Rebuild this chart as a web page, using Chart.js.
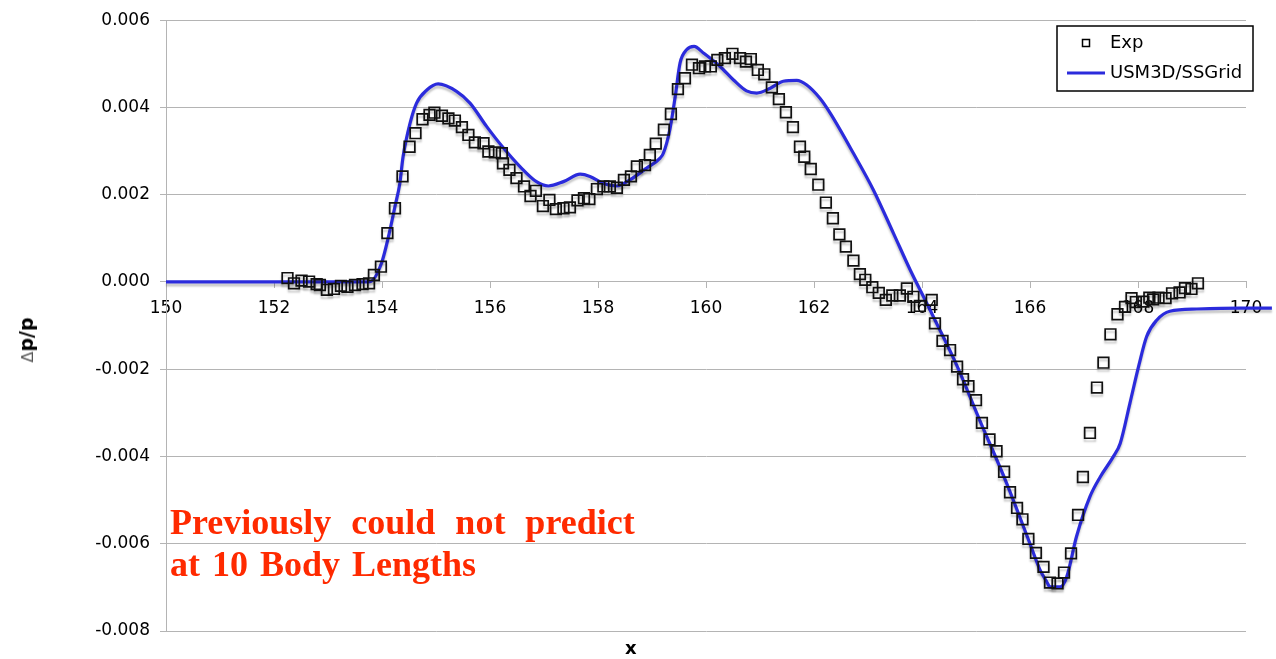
<!DOCTYPE html>
<html>
<head>
<meta charset="utf-8">
<script src="https://cdn.jsdelivr.net/npm/chart.js@4/dist/chart.umd.min.js"></script>
<style>
    body { margin: 0; background: #fff; }
    #wrap { position: relative; width: 1276px; height: 659px; }
    #chart { position: absolute; left: 0; top: 0; }
    .note { position: absolute; left: 170px; font-family: "Liberation Serif", serif; font-weight: bold;
            font-size: 36px; line-height: 42px; color: #ff2a00; white-space: nowrap; }
    #xTitle { position: absolute; left: 625px; top: 637px; font: bold 18px "DejaVu Sans", sans-serif; }
    #yTitle { position: absolute; left: 26px; top: 340px; transform: translate(-50%, -50%) rotate(-90deg);
              font: bold 19px "DejaVu Sans", sans-serif; white-space: nowrap; }
    #yTitle span { font-weight: normal; color: #555; font-size: 16px; }
</style>
</head>
<body>
<div id="wrap">
    <canvas id="chart" width="1276" height="659"></canvas>
    <div class="note" style="top:501px; word-spacing:11px;">Previously could not predict</div>
    <div class="note" style="top:543px; word-spacing:3px;">at 10 Body Lengths</div>
    <div id="xTitle">x</div>
    <div id="yTitle"><span>&#916;</span>p/p</div>
</div>
<script>
// Experiment (squares)
const expX = [152.25, 152.37, 152.51, 152.65, 152.79, 152.85, 152.98, 153.11, 153.24, 153.36,
    153.50, 153.64, 153.76, 153.85, 153.98, 154.10, 154.24, 154.38, 154.51, 154.62,
    154.75, 154.88, 154.97, 155.11, 155.23, 155.35, 155.48, 155.60, 155.72, 155.88,
    155.97, 156.09, 156.22, 156.24, 156.36, 156.49, 156.63, 156.75, 156.85, 156.98,
    157.10, 157.22, 157.36, 157.48, 157.62, 157.74, 157.84, 157.98, 158.10, 158.22,
    158.35, 158.48, 158.61, 158.72, 158.87, 158.96, 159.07, 159.22, 159.35, 159.48,
    159.61, 159.74, 159.87, 159.98, 160.09, 160.21, 160.35, 160.49, 160.63, 160.74,
    160.83, 160.96, 161.08, 161.22, 161.35, 161.48, 161.61, 161.74, 161.82, 161.94,
    162.08, 162.22, 162.35, 162.47, 162.59, 162.73, 162.85, 162.95, 163.08, 163.20,
    163.33, 163.45, 163.59, 163.72, 163.84, 163.96, 164.18, 164.24, 164.38, 164.52,
    164.65, 164.76, 164.86, 165.00, 165.11, 165.25, 165.38, 165.52, 165.63, 165.76,
    165.86, 165.97, 166.11, 166.25, 166.37, 166.51, 166.63, 166.76, 166.89, 166.98,
    167.11, 167.24, 167.36, 167.49, 167.62, 167.76, 167.88, 167.96, 168.10, 168.21,
    168.28, 168.38, 168.51, 168.63, 168.77, 168.87, 168.99, 169.11];
const expY = [0.00009, -0.00003, 0.00003, 0.00001, -0.00005, -0.00007, -0.00018, -0.00016, -0.00009, -0.00011,
    -0.00007, -0.00005, -0.00003, 0.00016, 0.00035, 0.00112, 0.00169, 0.00242, 0.00310, 0.00341,
    0.00373, 0.00383, 0.00388, 0.00381, 0.00375, 0.00370, 0.00355, 0.00337, 0.00320, 0.00318,
    0.00299, 0.00297, 0.00295, 0.00272, 0.00257, 0.00238, 0.00219, 0.00197, 0.00209, 0.00174,
    0.00188, 0.00167, 0.00169, 0.00171, 0.00187, 0.00192, 0.00190, 0.00213, 0.00219, 0.00219,
    0.00216, 0.00234, 0.00242, 0.00265, 0.00268, 0.00291, 0.00317, 0.00349, 0.00385, 0.00442,
    0.00467, 0.00498, 0.00490, 0.00494, 0.00494, 0.00509, 0.00513, 0.00523, 0.00513, 0.00505,
    0.00511, 0.00486, 0.00476, 0.00446, 0.00419, 0.00389, 0.00355, 0.00310, 0.00287, 0.00259,
    0.00223, 0.00182, 0.00146, 0.00109, 0.00081, 0.00049, 0.00018, 0.00005, -0.00012, -0.00025,
    -0.00041, -0.00031, -0.00031, -0.00015, -0.00034, -0.00055, -0.00041, -0.00095, -0.00135, -0.00156,
    -0.00194, -0.00223, -0.00239, -0.00271, -0.00323, -0.00361, -0.00388, -0.00435, -0.00482, -0.00518,
    -0.00544, -0.00589, -0.00621, -0.00653, -0.00689, -0.00691, -0.00666, -0.00622, -0.00534, -0.00447,
    -0.00346, -0.00242, -0.00185, -0.00120, -0.00074, -0.00057, -0.00037, -0.00046, -0.00045, -0.00036,
    -0.00040, -0.00036, -0.00037, -0.00026, -0.00024, -0.00014, -0.00016, -0.00003];

// USM3D/SSGrid (line)
const cfdX = [150.0, 153.5, 153.78, 153.99, 154.12, 154.24, 154.33, 154.39, 154.52, 154.64,
    154.83, 155.04, 155.38, 155.63, 155.94, 156.25, 156.56, 156.86, 157.08, 157.36,
    157.67, 157.85, 158.10, 158.35, 158.59, 158.90, 159.15, 159.21, 159.33, 159.43,
    159.52, 159.64, 159.78, 159.95, 160.26, 160.51, 160.75, 160.94, 161.19, 161.43,
    161.68, 161.86, 162.11, 162.30, 162.73, 163.10, 163.47, 163.78, 164.09, 164.24,
    164.64, 165.07, 165.57, 166.00, 166.19, 166.31, 166.37, 166.56, 166.68, 166.86,
    167.11, 167.30, 167.54, 167.67, 167.85, 168.01, 168.16, 168.35, 168.59, 169.09,
    169.89, 170.48];
const cfdY = [0, 0, 0.00001, 0.00043, 0.00104, 0.00173, 0.00226, 0.00287, 0.00364, 0.00410,
    0.00440, 0.00454, 0.00437, 0.00410, 0.00356, 0.00307, 0.00264, 0.00230, 0.00220, 0.00230,
    0.00247, 0.00242, 0.00226, 0.00220, 0.00234, 0.00261, 0.00284, 0.00295, 0.00349, 0.00425,
    0.00502, 0.00532, 0.00540, 0.00525, 0.00494, 0.00463, 0.00438, 0.00433, 0.00444, 0.00460,
    0.00462, 0.00452, 0.00421, 0.00387, 0.00295, 0.00211, 0.00112, 0.00028, -0.00049, -0.00087,
    -0.00190, -0.00317, -0.00462, -0.00600, -0.00661, -0.00687, -0.00699, -0.00699, -0.00676, -0.00584,
    -0.00492, -0.00447, -0.00401, -0.00370, -0.00278, -0.00194, -0.00125, -0.00087, -0.00067, -0.00062,
    -0.00060, -0.00060];

const seriesNames = ['Exp', 'USM3D/SSGrid'];
const xTicks = { min: 150, max: 170, step: 2 };
const yTicks = { min: -0.008, max: 0.006, step: 0.002 };

const gridGray = '#b4b4b4';
const lineBlue = '#2b2bdc';
const tickFont = { family: 'DejaVu Sans', size: 17 };

// soft drop shadow under the marks, like the original
const shadowPlugin = {
    id: 'shadow',
    beforeDatasetDraw(chart) {
        const ctx = chart.ctx;
        ctx.save();
        ctx.shadowColor = 'rgba(0,0,0,0.22)';
        ctx.shadowOffsetY = 3;
        ctx.shadowBlur = 2;
    },
    afterDatasetDraw(chart) {
        chart.ctx.restore();
    }
};

// boxed legend in the top right corner
const legendBox = {
    id: 'legendBox',
    afterDraw(chart) {
        const ctx = chart.ctx;
        const bx = 1057, by = 26, bw = 196, bh = 65;
        ctx.save();
        ctx.fillStyle = '#fff';
        ctx.fillRect(bx, by, bw, bh);
        ctx.strokeStyle = '#000';
        ctx.lineWidth = 1.5;
        ctx.strokeRect(bx, by, bw, bh);

        ctx.font = '18px "DejaVu Sans"';
        ctx.fillStyle = '#000';
        ctx.textBaseline = 'middle';

        ctx.lineWidth = 1.5;
        ctx.strokeRect(1082.5, 39.5, 7, 7);
        ctx.fillText(seriesNames[0], 1110, 43);

        ctx.strokeStyle = lineBlue;
        ctx.lineWidth = 3;
        ctx.beginPath();
        ctx.moveTo(1067, 73);
        ctx.lineTo(1105, 73);
        ctx.stroke();
        ctx.fillText(seriesNames[1], 1110, 73);
        ctx.restore();
    }
};

const expData = expX.map((x, i) => ({ x: x, y: expY[i] }));
const cfdData = cfdX.map((x, i) => ({ x: x, y: cfdY[i] }));

new Chart(document.getElementById('chart').getContext('2d'), {
    type: 'scatter',
    data: {
        datasets: [{
            label: seriesNames[1],
            type: 'line',
            data: cfdData,
            borderColor: lineBlue,
            borderWidth: 3.2,
            pointRadius: 0,
            fill: false,
            cubicInterpolationMode: 'monotone',
            clip: false,
            order: 2
        }, {
            label: seriesNames[0],
            data: expData,
            pointStyle: 'rect',
            pointRadius: 7.5,
            pointBorderWidth: 1.7,
            borderColor: '#111',
            backgroundColor: 'rgba(0,0,0,0)',
            order: 1
        }]
    },
    options: {
        responsive: false,
        animation: false,
        events: [],
        layout: { padding: { left: 0, right: 30, top: 20, bottom: 28 } },
        plugins: { legend: { display: false }, tooltip: { enabled: false } },
        scales: {
            x: {
                type: 'linear',
                position: { y: 0 },
                min: xTicks.min,
                max: xTicks.max,
                ticks: { stepSize: xTicks.step, color: '#000', font: tickFont, padding: 10 },
                grid: { drawOnChartArea: false, drawTicks: true, tickLength: 6, color: gridGray },
                border: { color: gridGray }
            },
            y: {
                type: 'linear',
                min: yTicks.min,
                max: yTicks.max,
                afterFit: scale => { scale.width = 166; },
                ticks: {
                    stepSize: yTicks.step,
                    color: '#000',
                    font: tickFont,
                    padding: 10,
                    callback: v => Math.abs(v) < 1e-9 ? '0.000' : v.toFixed(3)
                },
                grid: { color: gridGray, tickLength: 6 },
                border: { color: gridGray }
            }
        }
    },
    plugins: [shadowPlugin, legendBox]
});
</script>
</body>
</html>
